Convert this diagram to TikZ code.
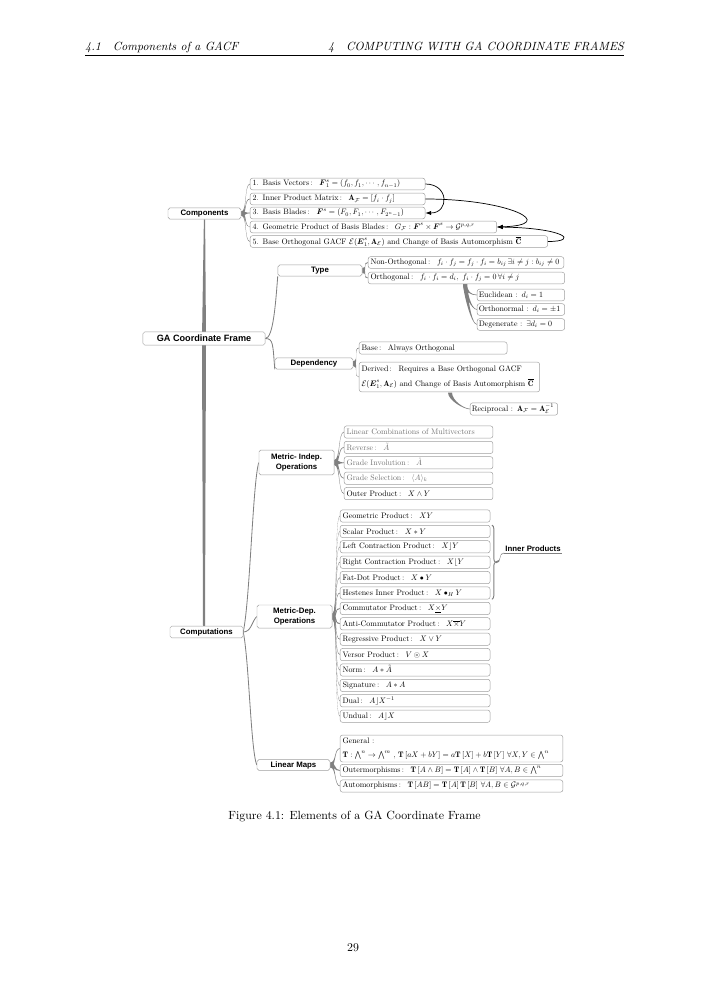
\documentclass[tikz,border=0pt]{standalone}
\usepackage{amsmath,amssymb}
\usepackage{fontspec}
\newfontfamily\topicfont{Liberation Sans}
\usetikzlibrary{arrows.meta,calc,backgrounds,decorations.pathreplacing}

\definecolor{twigcol}{gray}{0.5}
\definecolor{boxline}{gray}{0.62}

% tapered branch, leaving #1 sideways, half width #3
\newcommand{\twig}[3]{%
  \fill[twigcol] ($(#1)+(0,-#3)$) .. controls ($(#1)+(6,-#3)$) and ($(#2)+(-6,-0.3)$) .. ($(#2)+(0,-0.3)$)
    -- ($(#2)+(0,0.3)$) .. controls ($(#2)+(-6,0.3)$) and ($(#1)+(6,#3)$) .. ($(#1)+(0,#3)$) -- cycle;}
% tapered branch, leaving #1 downwards
\newcommand{\droop}[3]{%
  \fill[twigcol] ($(#1)+(-#3,0)$) .. controls ($(#1)+(-#3,8)$) and ($(#2)+(-6,0.3)$) .. ($(#2)+(0,0.3)$)
    -- ($(#2)+(0,-0.3)$) .. controls ($(#2)+(-6,-0.3)$) and ($(#1)+(#3,8)$) .. ($(#1)+(#3,0)$) -- cycle;}

\begin{document}
\begin{tikzpicture}[x=0.8424pt,y=-0.8424pt,
    topic/.style={draw=boxline, fill=white, rounded corners=1.5pt, align=center, inner sep=0pt,
        font=\topicfont\bfseries\fontsize{6.6}{7.8}\selectfont},
    leaf/.style={draw=boxline, fill=white, rounded corners=2pt, anchor=west, scale=0.67, text width=#1, align=left,
        inner xsep=3pt, inner ysep=1.5pt, minimum height=15.4pt, font=\fontsize{10}{12}\selectfont},
    thinlink/.style={draw=twigcol, line width=0.7pt},
    link/.style={line width=0.6pt, -{Latex[length=5pt,width=3.6pt]}}]
    \useasboundingbox (0,0) rectangle (707,1000);

    % page head
    \node[anchor=base west, inner sep=0pt, font=\fontsize{10}{12}\selectfont\itshape] (headl) at (85,50) {4.1\quad Components of a GACF};
    \node[anchor=base east, inner sep=0pt, font=\fontsize{10}{12}\selectfont\itshape] (headr) at (624,50) {4\quad COMPUTING WITH GA COORDINATE FRAMES};
    \draw[line width=0.5pt] (85,55) -- (624,55);

    \node[topic, minimum width=103pt, minimum height=11pt, font=\topicfont\bfseries\fontsize{7.7}{9}\selectfont] (hub) at (204,338.5) {GA Coordinate Frame};

    % components
    \node[topic, minimum width=61.5pt, minimum height=9.3pt] (comp) at (204.5,213.5) {Components};
    \node[leaf=214pt, minimum height=14.6pt] (c1) at (250,184) {1. Basis Vectors\,: \ $\boldsymbol{F}_1^s=(f_0,f_1,\cdots,f_{n-1})$};
    \node[leaf=214pt, minimum height=14.6pt] (c2) at (250,199) {2. Inner Product Matrix\,: \ $\mathbf{A}_{\mathcal{F}}=[f_i\cdot f_j]$};
    \node[leaf=214pt, minimum height=14.6pt] (c3) at (250,213) {3. Basis Blades\,: \ $\boldsymbol{F}^s=(F_0,F_1,\cdots,F_{2^n-1})$};
    \node[leaf=304pt, minimum height=14.6pt] (c4) at (250,227) {4. Geometric Product of Basis Blades\,: \ $G_{\mathcal{F}}:\boldsymbol{F}^s\times\boldsymbol{F}^s\to\mathcal{G}^{p,q,r}$};
    \node[leaf=368pt, minimum height=14.6pt] (c5) at (250,241.5) {5. Base Orthogonal GACF $\mathcal{E}(\boldsymbol{E}_1^s,\mathbf{A}_{\mathcal{E}})$ and Change of Basis Automorphism $\overline{\mathbf{C}}$};

    % type
    \node[topic, minimum width=70.8pt, minimum height=9.3pt] (type) at (320,270.5) {Type};
    \node[leaf=240pt, minimum height=14.6pt] (t1) at (368,262.5) {Non-Orthogonal\,: \ $f_i\cdot f_j=f_j\cdot f_i=b_{ij}\,\exists i\neq j:b_{ij}\neq0$};
    \node[leaf=241pt, minimum height=14.6pt] (t2) at (368,278) {Orthogonal\,: \ $f_i\cdot f_i=d_i,\ f_i\cdot f_j=0\,\forall i\neq j$};
    \node[leaf=106pt, inner xsep=2pt, minimum height=14.6pt] (o1) at (477,295) {Euclidean : $d_i=1$};
    \node[leaf=106pt, inner xsep=2pt, minimum height=14.6pt] (o2) at (477,309.5) {Orthonormal : $d_i=\pm1$};
    \node[leaf=106pt, inner xsep=2pt, minimum height=14.6pt] (o3) at (477,324.5) {Degenerate : $\exists d_i=0$};
    \coordinate (ob) at (465,283.5);

    % dependency
    \node[topic, minimum width=65.7pt, minimum height=9.3pt] (dep) at (314,363.5) {Dependency};
    \node[leaf=180pt] (d1) at (359,348) {Base\,: \ Always Orthogonal};
    \node[leaf=221pt, minimum height=37.3pt] (d2) at (359,377) {Derived\,: \ Requires a Base Orthogonal GACF\\[6.5pt]
        $\mathcal{E}(\boldsymbol{E}_1^s,\mathbf{A}_{\mathcal{E}})$ and Change of Basis Automorphism $\overline{\mathbf{C}}$};
    \node[leaf=106pt, inner xsep=2pt] (r1) at (470,409) {Reciprocal : $\mathbf{A}_{\mathcal{F}}=\mathbf{A}_{\mathcal{E}}^{-1}$};
    \coordinate (db) at (450,392.5);

    % metric independent
    \node[topic, minimum width=63.2pt, minimum height=21pt] (mind) at (296.5,462.5) {Metric- Indep.\\Operations};
    \node[leaf=181pt, text=black!55] (mi1) at (344,432) {Linear Combinations of Multivectors};
    \node[leaf=181pt, text=black!55] (mi2) at (344,447.4) {Reverse\,: \ $\smash{\tilde{A}}$};
    \node[leaf=181pt, text=black!55] (mi3) at (344,462.8) {Grade Involution\,: \ $\smash{\hat{A}}$};
    \node[leaf=181pt, text=black!55] (mi4) at (344,478.2) {Grade Selection\,: \ $\langle A\rangle_k$};
    \node[leaf=181pt] (mi5) at (344,493.6) {Outer Product\,: \ $X\wedge Y$};

    % metric dependent
    \node[topic, minimum width=63.2pt, minimum height=19.4pt] (mdep) at (294.5,616.5) {Metric-Dep.\\Operations};
    \node[leaf=182.5pt] (md1) at (340,516) {Geometric Product\,: \ $XY$};
    \node[leaf=182.5pt] (md2) at (340,531.4) {Scalar Product\,: \ $X*Y$};
    \node[leaf=182.5pt] (md3) at (340,546.8) {Left Contraction Product\,: \ $X\rfloor Y$};
    \node[leaf=182.5pt] (md4) at (340,562.2) {Right Contraction Product\,: \ $X\lfloor Y$};
    \node[leaf=182.5pt] (md5) at (340,577.6) {Fat-Dot Product\,: \ $X\bullet Y$};
    \node[leaf=182.5pt] (md6) at (340,593) {Hestenes Inner Product\,: \ $X\bullet_H Y$};
    \node[leaf=182.5pt] (md7) at (340,608.4) {Commutator Product\,: \ $X\underline{\times}Y$};
    \node[leaf=182.5pt] (md8) at (340,623.8) {Anti-Commutator Product\,: \ $X\smash{\overline{\times}}Y$};
    \node[leaf=182.5pt] (md9) at (340,639.2) {Regressive Product\,: \ $X\vee Y$};
    \node[leaf=182.5pt] (md10) at (340,654.6) {Versor Product\,: \ $V\circledcirc X$};
    \node[leaf=182.5pt] (md11) at (340,670) {Norm\,: \ $A*\smash{\tilde{A}}$};
    \node[leaf=182.5pt] (md12) at (340,685.4) {Signature\,: \ $A*A$};
    \node[leaf=182.5pt] (md13) at (340,700.8) {Dual\,: \ $A\rfloor X^{-1}$};
    \node[leaf=182.5pt] (md14) at (340,716.2) {Undual\,: \ $A\rfloor X$};
    \coordinate (bt) at ($(md2.north east)!0.5!(md6.south east)+(6,0)$);
    \node[anchor=south west, inner sep=1pt, font=\topicfont\bfseries\fontsize{6.6}{7.8}\selectfont] (inner) at (504,553) {Inner Products};

    % computations
    \node[topic, minimum width=61.5pt, minimum height=10pt] (compu) at (206.5,632) {Computations};
    \node[topic, minimum width=61.5pt, minimum height=9pt] (lmap) at (293.5,765) {Linear Maps};
    \node[leaf=274pt, minimum height=33.9pt] (g1) at (340,748.5) {General :\\[6pt]
        $\mathbf{T}:\textstyle\bigwedge^n\to\bigwedge^m$ , $\mathbf{T}\left[aX+bY\right]=a\mathbf{T}\left[X\right]+b\mathbf{T}\left[Y\right]\,\forall X,Y\in\textstyle\bigwedge^n$};
    \node[leaf=274pt] (g2) at (340,770.5) {Outermorphisms\,: \ $\mathbf{T}\left[A\wedge B\right]=\mathbf{T}\left[A\right]\wedge\mathbf{T}\left[B\right]\,\forall A,B\in\textstyle\bigwedge^n$};
    \node[leaf=274pt] (g3) at (340,786) {Automorphisms\,: \ $\mathbf{T}\left[AB\right]=\mathbf{T}\left[A\right]\mathbf{T}\left[B\right]\,\forall A,B\in\mathcal{G}^{p,q,r}$};

    \begin{pgfonlayer}{background}
        % trunk
        \fill[twigcol] ($(hub.center)+(-2,0)$) -- ($(comp.south)+(-0.6,0)$) -- ($(comp.south)+(0.6,0)$) -- ($(hub.center)+(2,0)$) -- cycle;
        \fill[twigcol] ($(hub.center)+(-2,0)$) -- ($(hub.center |- compu.north)+(-1,0)$) -- ($(hub.center |- compu.north)+(1,0)$) -- ($(hub.center)+(2,0)$) -- cycle;
        \draw[thinlink] (hub.east) .. controls +(8,0) and +(-2,25) .. (type.south west);
        \draw[thinlink] (hub.east) .. controls +(8,0) and +(-2,-25) .. (dep.south west);
        \draw[thinlink] (compu.east) .. controls (250,600) and +(-6,20) .. (mind.west);
        \draw[thinlink] (compu.east) .. controls +(8,0) and +(-5,5) .. (mdep.west);
        \draw[thinlink] (compu.east) .. controls (249,660) and +(-6,-15) .. (lmap.west);

        \foreach \n in {c1,c2,c3,c4,c5} {\twig{comp.east}{\n.west}{2}}
        \foreach \n in {t1,t2} {\twig{type.east}{\n.west}{2.5}}
        \foreach \n in {o1,o2,o3} {\droop{ob}{\n.west}{2}}
        \foreach \n in {d1,d2} {\twig{dep.east}{\n.west}{2.5}}
        \droop{db}{r1.west}{2}
        \foreach \n in {mi1,mi2,mi3,mi4,mi5} {\twig{mind.east}{\n.west}{2.5}}
        \foreach \n in {md1,md2,md3,md4,md5,md6,md7,md8,md9,md10,md11,md12,md13,md14} {\twig{mdep.east}{\n.west}{2.5}}
        \foreach \n in {g1,g2,g3} {\twig{lmap.east}{\n.west}{2.5}}
    \end{pgfonlayer}

    % inner products brace
    \draw[twigcol, line width=0.8pt, decorate, decoration={brace, amplitude=3pt}] ([xshift=1.5pt]md2.north east) -- ([xshift=1.5pt]md6.south east);
    \twig{bt}{inner.south west}{1}
    \draw[twigcol, line width=0.6pt] (inner.south west) -- (inner.south east);

    % links between components
    \draw[link] (c1.east) .. controls +(24,0) and +(24,0) .. (c3.east);
    \draw[link] (c2.east) .. controls +(85,0) and +(63,-2) .. (c4.east);
    \draw[link] (c5.east) .. controls +(32,0) and +(68,1) .. (c4.east);

    \node[anchor=base, inner sep=0pt, font=\fontsize{10}{12}\selectfont] (cap) at (354.5,819) {Figure 4.1: Elements of a GA Coordinate Frame};
    \node[anchor=base, inner sep=0pt, font=\fontsize{10}{12}\selectfont] (pnum) at (353,951) {29};
\end{tikzpicture}
\end{document}
